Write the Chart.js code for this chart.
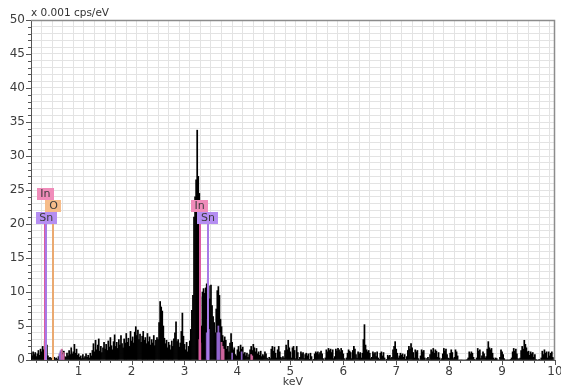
<!DOCTYPE html>
<html><head><meta charset="utf-8">
<script src="https://cdn.jsdelivr.net/npm/chart.js@4.4.0/dist/chart.umd.min.js"></script>
<style>html,body{margin:0;padding:0;background:#fff}canvas{display:block}</style>
</head><body>
<canvas id="c" width="561" height="388"></canvas>
<script>
// ---- channel grid (keV) ----
const startKeV = 0.10, stepKeV = 0.02;
// ---- spectrum counts (x 0.001 cps/eV), rows of channels ----
const spec010 = [1.0,0.6,1.2,0.8,1.1,0.5,0.9,1.4,0.7,1.6,1.2,2.0,1.5,2.8,4.3,2.2,0.6,0.3,0.4,0.2];
const spec050 = [0.3,0.2,0.4,0.2,0.3,0.1,0.5,0.8,1.2,1.5,0.9,1.3,0.5,0.4,1.0,0.6,1.4,0.8,1.8,0.9,1.2,2.3,1.0,1.6,0.7];
const spec100 = [0.9,0.4,0.6,0.2,0.8,0.3,0.5,0.9,0.4,0.7,0.3,1.0,0.6,1.4,2.4,1.2,2.9,1.5,2.2,3.1,1.3,2.0,1.1,1.8,2.6];
const spec150 = [1.6,2.3,1.4,2.8,1.9,3.3,2.1,1.5,2.7,3.7,2.0,2.6,1.7,3.0,2.2,3.6,2.4,1.8,3.1,2.5,3.9,2.6,3.2,2.0,4.2];
const spec200 = [2.8,3.4,2.5,4.1,4.9,3.6,4.4,3.0,3.8,2.6,3.5,4.2,2.9,3.3,2.4,3.9,2.7,3.4,2.2,3.0,2.5,3.6,2.1,2.9,3.3];
const spec250 = [3.0,5.5,8.6,7.8,7.2,5.0,3.2,2.4,2.9,1.8,2.6,2.2,1.5,2.8,2.0,3.1,4.0,5.6,2.7,3.0,1.9,2.5,4.2,6.9,3.5];
const spec300 = [2.3,1.5,2.6,1.2,2.0,2.8,4.5,7.3,9.5,21.0,24.0,26.5,33.8,27.0,24.5,9.3,5.0,10.0,10.5,9.8,10.6,11.2,11.8,10.9,9.0];
const spec350 = [11.0,8.0,6.4,5.5,4.0,7.5,10.2,10.8,9.5,6.0,4.9,3.6,2.8,3.4,2.9,1.6,2.0,1.2,2.5,3.9,2.6,1.5,1.8,0.8,0.6];
const spec400 = [1.5,2.0,1.2,2.2,1.6,1.9,0.9,1.1,0.6,1.0,0.4,0.8,1.5,2.0,1.4,2.3,1.8,1.2,1.7,0.9,1.2,0.7,1.3,0.5,0.8];
const spec450 = [0.6,1.2,0.9,0.3,0.1,0.4,0.2,1.6,2.0,1.3,1.9,1.0,0.3,1.5,2.0,1.2,0.4,0.2,0.5,0.3,1.4,2.2,1.5,2.9,1.8];
const spec500 = [1.2,0.3,1.8,2.0,1.4,0.2,2.0,1.1,0.1,0.4,1.2,0.9,1.1,0.2,0.8,1.0,0.6,0.9,0.1,1.0,0.5,0.0,0.1,0.9,1.2];
const spec550 = [1.0,1.2,0.8,1.1,1.3,0.9,0.2,0.0,0.3,1.5,1.2,1.7,1.4,1.6,1.1,1.5,0.2,0.5,1.6,1.3,1.7,1.5,1.2,1.7,1.4];
const spec600 = [0.9,0.2,0.0,0.3,1.0,1.5,1.3,1.1,0.2,1.4,2.0,1.6,0.8,0.3,1.2,0.9,1.1,0.3,1.0,3.0,5.2,2.2,1.5,1.2,1.4];
const spec650 = [1.0,0.2,0.4,1.2,0.9,1.1,0.5,1.2,0.3,0.1,1.0,1.2,0.6,1.1,0.3,0.0,0.1,0.7,0.5,0.7,0.2,0.4,1.5,2.0,2.7];
const spec700 = [1.6,1.0,0.3,0.6,1.0,0.7,0.9,0.4,0.8,0.1,0.5,1.4,2.0,1.6,2.4,1.8,1.1,0.3,1.5,1.2,1.4,0.2,0.0,0.6,1.5];
const spec750 = [1.2,1.4,0.3,0.0,0.2,0.4,0.1,0.8,1.5,1.2,1.7,1.0,1.5,1.3,0.4,1.1,0.3,0.0,0.2,0.9,1.7,1.3,1.6,0.8,0.3];
const spec800 = [0.2,1.0,1.5,1.1,0.2,0.4,1.5,1.2,0.6,0.0,0.0,0.0,0.0,0.0,0.0,0.0,0.0,0.1,0.3,1.2,0.9,1.2,1.0,0.4,0.1];
const spec850 = [0.0,0.3,1.7,1.3,1.5,0.2,0.6,1.2,0.9,0.3,0.5,1.6,2.7,1.8,1.5,1.7,1.0,0.3,0.1,0.3,0.2,0.0,0.0,0.4,1.5];
const spec900 = [1.2,0.8,0.2,0.0,0.0,0.0,0.0,0.0,0.1,0.3,1.2,1.7,1.3,1.6,0.9,0.2,0.1,0.3,1.4,2.0,1.6,2.9,2.3,1.8,1.2];
const spec950 = [1.3,0.7,1.2,0.9,1.1,0.4,0.8,0.1,0.0,0.0,0.1,0.0,0.3,1.3,0.8,1.5,1.0,1.2,0.3,1.2,0.6,1.0,1.2,0.4,0.2];

// ---- element-coloured peak overlays ----
const inOverlayKeV = [0.68,0.72,3.28,3.30,3.70,3.72,3.74,4.26,4.28];
const inOverlayVal = [1.6,1.1,3.0,2.5,2.6,2.0,1.6,0.8,0.6];
const snOverlayKeV = [0.64,0.66,0.70,3.42,3.44,3.46,3.62,3.64,3.66,3.90,4.08];
const snOverlayVal = [1.0,1.4,0.8,4.0,6.0,4.5,4.0,5.0,4.0,1.0,1.2];

// ---- element markers ----
const markerElements = ['In','Sn','O','In','Sn'];
const markerKeV = [0.37,0.39,0.525,3.287,3.444];
const markerHeight = [20,20,20,20,20];

// ---- axis tick labels ----
const xTickLabels = ['1','2','3','4','5','6','7','8','9','10'];
const yTickLabels = ['0','5','10','15','20','25','30','35','40','45','50'];
const yUnitLabel = 'x 0.001 cps/eV';
const xTitle = 'keV';

// ---- styles (not data) ----
const elementStyle = {
  In: {box:'#f08cba', line:'#dc5aa0'},
  Sn: {box:'#b58ef2', line:'#a77ae6'},
  O:  {box:'#f6bc8a', line:'#eaa970'}
};
const labelLevels = [2,0,1,1,0];

const spectrum = [].concat(spec010,spec050,spec100,spec150,spec200,spec250,spec300,spec350,spec400,spec450,
  spec500,spec550,spec600,spec650,spec700,spec750,spec800,spec850,spec900,spec950);
const channels = spectrum.map((_,i)=> +(startKeV + i*stepKeV).toFixed(2));

Chart.defaults.font.family = '"DejaVu Sans", Verdana, sans-serif';
Chart.defaults.color = '#444';

const frame = {
  id:'frame',
  afterDraw(chart){
    const {ctx, chartArea:a, scales:{x,y}} = chart;
    ctx.save();
    ctx.strokeStyle = '#8c8c8c'; ctx.lineWidth = 1.5;
    ctx.beginPath(); ctx.moveTo(a.left, a.top+0.5); ctx.lineTo(a.right-0.5, a.top+0.5); ctx.lineTo(a.right-0.5, a.bottom); ctx.stroke();
    ctx.strokeStyle = '#555'; ctx.lineWidth = 1;
    y.ticks.forEach(t=>{
      const py = Math.round(y.getPixelForValue(t.value))+0.5;
      const len = yTickLabels.includes(String(t.value)) ? 5 : 3;
      ctx.beginPath(); ctx.moveTo(a.left-len, py); ctx.lineTo(a.left, py); ctx.stroke();
    });
    x.ticks.forEach(t=>{
      const px = Math.round(x.getPixelForValue(t.value))+0.5;
      const len = xTickLabels.includes(String(+t.value.toFixed(2))) ? 5 : 3;
      ctx.beginPath(); ctx.moveTo(px, a.bottom); ctx.lineTo(px, a.bottom+len); ctx.stroke();
    });
    ctx.fillStyle = '#333'; ctx.font = '10.5px "DejaVu Sans"';
    ctx.textAlign = 'left'; ctx.textBaseline = 'alphabetic';
    ctx.fillText(yUnitLabel, a.left, a.top - 4);
    ctx.restore();
  },
  afterDatasetsDraw(chart){
    const {ctx, scales:{x,y}} = chart;
    ctx.save();
    const base = y.getPixelForValue(0);
    markerElements.forEach((el,i)=>{
      const px = Math.round(x.getPixelForValue(markerKeV[i]));
      const top = y.getPixelForValue(markerHeight[i]);
      ctx.strokeStyle = elementStyle[el].line; ctx.lineWidth = 2;
      ctx.beginPath(); ctx.moveTo(px, base); ctx.lineTo(px, top); ctx.stroke();
    });
    ctx.font = '11px "DejaVu Sans"';
    ctx.textAlign = 'center'; ctx.textBaseline = 'middle';
    markerElements.forEach((el,i)=>{
      const px = x.getPixelForValue(markerKeV[i]);
      const top = y.getPixelForValue(markerHeight[i]);
      const w = Math.round(ctx.measureText(el).width + 7);
      const h = 12;
      const by = Math.round(top - h*(labelLevels[i]+1));
      ctx.fillStyle = elementStyle[el].box;
      ctx.fillRect(Math.round(px - w/2), by, w, h);
      ctx.fillStyle = '#3a3a3a';
      ctx.fillText(el, px, by + h/2 + 0.5);
    });
    ctx.restore();
  }
};

new Chart(document.getElementById('c'), {
  type:'bar',
  data:{
    datasets:[
      {label:'In', data: inOverlayKeV.map((e,i)=>({x:e,y:inOverlayVal[i]})), backgroundColor:'rgba(225,110,170,0.85)', grouped:false, barPercentage:1, categoryPercentage:1, order:0},
      {label:'Sn', data: snOverlayKeV.map((e,i)=>({x:e,y:snOverlayVal[i]})), backgroundColor:'rgba(160,110,225,0.85)', grouped:false, barPercentage:1, categoryPercentage:1, order:0},
      {label:'Spectrum', data: channels.map((e,i)=>({x:e,y:spectrum[i]})), backgroundColor:'#000', grouped:false, barPercentage:1, categoryPercentage:1, order:1}
    ]
  },
  options:{
    responsive:false, animation:false, devicePixelRatio:1,
    layout:{padding:{left:0,right:0,top:20,bottom:0}},
    plugins:{legend:{display:false}, tooltip:{enabled:false}},
    scales:{
      x:{
        type:'linear', min:0.1, max:10, offset:false,
        afterBuildTicks(s){ const t=[]; for(let k=1;k<=50;k++) t.push({value:+(k*0.2).toFixed(2)}); s.ticks=t; },
        afterFit(s){ s.height = 28; s.paddingRight = 6; s.paddingLeft = 0; },
        grid:{color:'#e3e3e3', drawTicks:false},
        border:{color:'#555'},
        ticks:{autoSkip:false, maxRotation:0, padding:5, font:{size:12}, color:'#3c3c3c',
          callback(v){ const s=String(+(+v).toFixed(2)); return xTickLabels.includes(s)? s : ''; }},
        title:{display:true, text:xTitle, font:{size:11}, color:'#3c3c3c', padding:{top:0,bottom:-1}}
      },
      y:{
        min:0, max:50,
        afterBuildTicks(s){ const t=[]; for(let k=0;k<=50;k++) t.push({value:k}); s.ticks=t; },
        afterFit(s){ s.width = 31; s.paddingTop = 0; s.paddingBottom = 0; },
        grid:{color:'#e3e3e3', drawTicks:false},
        border:{color:'#555'},
        ticks:{autoSkip:false, padding:6, font:{size:12}, color:'#3c3c3c',
          callback(v){ return yTickLabels.includes(String(v)) ? String(v) : ''; }}
      }
    }
  },
  plugins:[frame]
});
</script>
</body></html>
